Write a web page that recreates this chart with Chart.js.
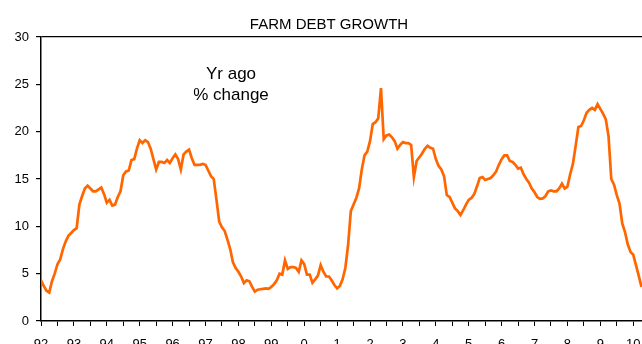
<!DOCTYPE html>
<html>
<head>
<meta charset="utf-8">
<script src="https://cdn.jsdelivr.net/npm/chart.js@4"></script>
<style>
  html, body { margin: 0; padding: 0; background: #fff; }
  #wrap { width: 642px; height: 344px; position: relative; }
</style>
</head>
<body>
<div id="wrap"><canvas id="chart-farm-debt"></canvas></div>
<script>
// monthly, Jan 1992 .. Apr 2010, % change from a year ago
const debtGrowth = [
  4.3, 3.7, 3.2, 3.0, 4.2, 5.0, 6.0, 6.5, 7.6, 8.4, 9.0, 9.3,        // 92
  9.6, 9.8, 12.3, 13.2, 14.0, 14.3, 14.0, 13.7, 13.7, 13.9, 14.1, 13.4, // 93
  12.5, 12.8, 12.2, 12.3, 13.1, 13.7, 15.4, 15.8, 15.9, 17.0, 17.1, 18.2, // 94
  19.1, 18.8, 19.1, 18.9, 18.2, 17.1, 16.0, 16.8, 16.8, 16.7, 17.0, 16.7, // 95
  17.2, 17.6, 17.1, 16.0, 17.6, 17.9, 18.1, 17.2, 16.5, 16.5, 16.5, 16.6, // 96
  16.5, 15.9, 15.3, 15.0, 12.8, 10.5, 9.9, 9.5, 8.6, 7.6, 6.2, 5.6,      // 97
  5.2, 4.7, 4.0, 4.3, 4.2, 3.6, 3.1, 3.3, 3.35, 3.4, 3.45, 3.4,          // 98
  3.6, 3.9, 4.3, 5.0, 4.9, 6.4, 5.5, 5.7, 5.7, 5.6, 5.2, 6.4,            // 99
  6.0, 4.9, 4.9, 4.05, 4.4, 4.8, 5.9, 5.2, 4.7, 4.7, 4.3, 3.8,           // 00
  3.45, 3.7, 4.4, 5.6, 8.0, 11.6, 12.3, 13.0, 14.0, 16.0, 17.5, 17.9,    // 01
  19.0, 20.8, 21.0, 21.4, 24.6, 19.2, 19.6, 19.7, 19.4, 19.0, 18.2, 18.6, // 02
  18.9, 18.8, 18.8, 18.6, 15.2, 16.9, 17.3, 17.7, 18.2, 18.5, 18.3, 18.2, // 03
  17.1, 16.4, 16.0, 15.3, 13.3, 13.1, 12.5, 11.9, 11.6, 11.2, 11.7, 12.3, // 04
  12.8, 13.0, 13.4, 14.2, 15.1, 15.2, 14.9, 15.0, 15.1, 15.4, 15.8, 16.5, // 05
  17.1, 17.5, 17.5, 16.9, 16.8, 16.5, 16.1, 16.2, 15.5, 15.0, 14.6, 14.0, // 06
  13.6, 13.1, 12.9, 12.95, 13.2, 13.7, 13.8, 13.7, 13.7, 14.0, 14.5, 14.0, // 07
  14.2, 15.5, 16.6, 18.5, 20.5, 20.6, 21.2, 22.0, 22.3, 22.5, 22.3, 22.9, // 08
  22.4, 21.9, 21.3, 19.5, 15.0, 14.4, 13.3, 12.4, 10.3, 9.4, 8.1, 7.3,   // 09
  7.0, 5.9, 4.8, 3.6                                                     // 10
];
const yearLabels = ['92', '93', '94', '95', '96', '97', '98', '99', '0', '1',
  '2', '3', '4', '5', '6', '7', '8', '9', '10'];
const yTicks = [0, 5, 10, 15, 20, 25, 30];
const titleText = 'FARM DEBT GROWTH';
const noteLines = ['Yr ago', '% change'];

const FONT = '"Liberation Sans", Arial, sans-serif';
const ORANGE = '#ff6600';

const textPlugin = {
  id: 'chartText',
  afterDraw(chart) {
    const c = chart.ctx;
    c.save();
    c.fillStyle = '#000';
    c.textAlign = 'center';
    c.textBaseline = 'alphabetic';
    c.font = '15px ' + FONT;
    c.fillText(titleText, 329, 29);
    c.font = '17px ' + FONT;
    c.fillText(noteLines[0], 231, 79);
    c.fillText(noteLines[1], 231, 100);
    c.restore();
  }
};

const canvas = document.getElementById('chart-farm-debt');
new Chart(canvas, {
  type: 'line',
  data: {
    datasets: [{
      label: 'Farm debt growth',
      data: debtGrowth.map((v, i) => ({ x: i, y: v })),
      borderColor: ORANGE,
      borderWidth: 2.7,
      pointRadius: 0,
      tension: 0,
      fill: false,
    }],
  },
  options: {
    responsive: true,
    maintainAspectRatio: false,
    animation: false,
    layout: { padding: { top: 37, right: 0, left: 0, bottom: 0 } },
    plugins: {
      legend: { display: false },
      title: { display: false },
      tooltip: { enabled: false },
    },
    scales: {
      x: {
        type: 'linear',
        min: 0,
        max: 219.2,
        afterFit: s => {
          s.height = 23;
          s.paddingLeft = 0;
          s.paddingRight = 0;
        },
        border: { display: true, color: '#000', width: 1.5 },
        grid: { drawOnChartArea: false, color: '#000', tickLength: 5, tickWidth: 1 },
        ticks: {
          stepSize: 6,
          includeBounds: false,
          autoSkip: false,
          maxRotation: 0,
          padding: 11,
          color: '#000',
          font: { family: FONT, size: 13 },
          callback: v => (v % 12 === 0 ? yearLabels[v / 12] : ''),
        },
      },
      y: {
        min: yTicks[0],
        max: yTicks[yTicks.length - 1],
        afterFit: s => { s.width = 41; },
        border: { display: true, color: '#000', width: 1.5 },
        grid: {
          color: ctx => (ctx.tick && ctx.tick.value === 30 ? '#000' : 'rgba(0,0,0,0)'),
          tickColor: '#000',
          tickLength: 5,
          lineWidth: 1.2,
        },
        ticks: {
          stepSize: 5,
          padding: 7,
          color: '#000',
          font: { family: FONT, size: 13 },
        },
      },
    },
  },
  plugins: [textPlugin],
});
</script>
</body>
</html>
